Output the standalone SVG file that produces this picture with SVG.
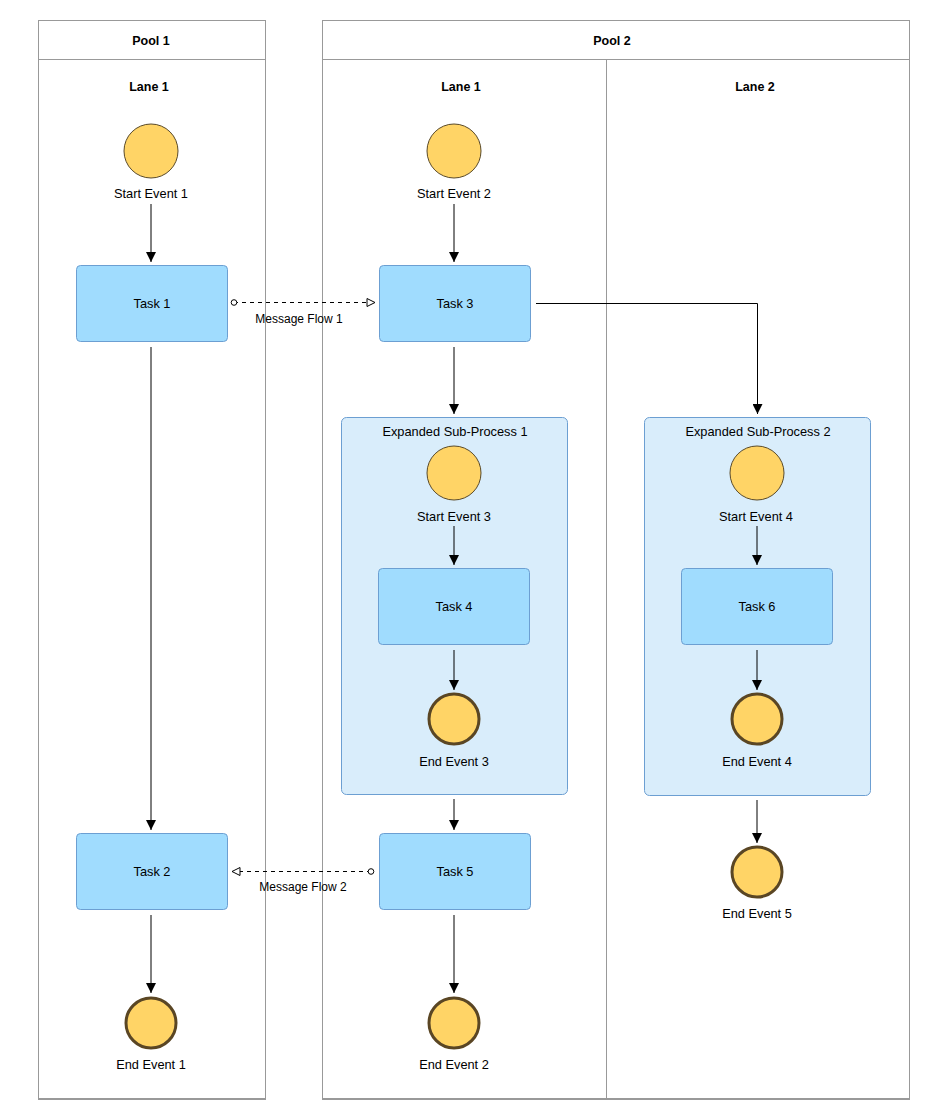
<svg xmlns="http://www.w3.org/2000/svg" width="948" height="1118" viewBox="0 0 948 1118">
<defs>
<style>
text{font-family:"Liberation Sans",Arial,sans-serif;font-size:12.8px;fill:#000;text-anchor:middle;dominant-baseline:central}
.b{font-weight:bold;font-size:12.5px}
.m{font-size:12px}
.pool{fill:#fff;stroke:#999;stroke-width:1}
.ln{stroke:#999;stroke-width:1;fill:none}
.task{fill:#a0dcfe;stroke:#6c9fd2;stroke-width:1}
.sub{fill:#d9edfb;stroke:#6c9fd2;stroke-width:1}
.se{fill:#ffd466;stroke:#5a4a28;stroke-width:1}
.ee{fill:#ffd466;stroke:#5a4624;stroke-width:3}
.flow{stroke:#000;stroke-width:1;fill:none;marker-end:url(#arr)}
.msg{stroke:#000;stroke-width:1;fill:none;stroke-dasharray:4 4;marker-start:url(#dot);marker-end:url(#open)}
</style>
<marker id="arr" viewBox="0 0 10 10" refX="10" refY="5" markerWidth="10" markerHeight="10" markerUnits="userSpaceOnUse" orient="auto">
<path d="M0,0 L10,5 L0,10 Z" fill="#000"/>
</marker>
<marker id="open" viewBox="0 0 10 10" refX="9" refY="5" markerWidth="10" markerHeight="10" markerUnits="userSpaceOnUse" orient="auto">
<path d="M1,1 L9,5 L1,9 Z" fill="#fff" stroke="#000" stroke-width="1"/>
</marker>
<marker id="dot" viewBox="0 0 8 8" refX="4" refY="4" markerWidth="8" markerHeight="8" markerUnits="userSpaceOnUse" orient="auto">
<circle cx="4" cy="4" r="2.8" fill="#fff" stroke="#000" stroke-width="1"/>
</marker>
</defs>
<rect width="948" height="1118" fill="#fff"/>

<g id="pool1">
<rect class="pool" x="38.5" y="20.5" width="227" height="1078"/>
<line class="ln" x1="38.5" y1="59.5" x2="265.5" y2="59.5"/>
<line x1="38" y1="1099" x2="266" y2="1099" stroke="#999" stroke-width="2"/>
<text class="b" x="151" y="40.5">Pool 1</text>
<text class="b" x="149" y="86.5">Lane 1</text>
</g>

<g id="pool2">
<rect class="pool" x="322.5" y="20.5" width="587" height="1078"/>
<line class="ln" x1="322.5" y1="59.5" x2="909.5" y2="59.5"/>
<line class="ln" x1="606.5" y1="59.5" x2="606.5" y2="1098.5"/>
<line x1="322" y1="1099" x2="910" y2="1099" stroke="#999" stroke-width="2"/>
<text class="b" x="612" y="40.5">Pool 2</text>
<text class="b" x="461" y="86.5">Lane 1</text>
<text class="b" x="755" y="86.5">Lane 2</text>
</g>

<g id="subProcess1">
<rect class="sub" x="341.5" y="417.5" width="226" height="377" rx="5"/>
<text x="455" y="431.5">Expanded Sub-Process 1</text>
</g>
<g id="subProcess2">
<rect class="sub" x="644.5" y="417.5" width="226" height="378" rx="5"/>
<text x="758" y="431.5">Expanded Sub-Process 2</text>
</g>

<g id="connectors">
<line class="flow" x1="151" y1="204" x2="151" y2="262"/>
<line class="flow" x1="151" y1="347" x2="151" y2="830"/>
<line class="flow" x1="151" y1="915" x2="151" y2="993"/>
<line class="flow" x1="454" y1="204" x2="454" y2="262"/>
<line class="flow" x1="454" y1="347" x2="454" y2="414"/>
<path class="flow" d="M536,303.5 H757.5 V414"/>
<line class="flow" x1="454" y1="526" x2="454" y2="565"/>
<line class="flow" x1="454" y1="650" x2="454" y2="690"/>
<line class="flow" x1="454" y1="799" x2="454" y2="830"/>
<line class="flow" x1="454" y1="915" x2="454" y2="993"/>
<line class="flow" x1="757" y1="526" x2="757" y2="565"/>
<line class="flow" x1="757" y1="650" x2="757" y2="690"/>
<line class="flow" x1="757" y1="800" x2="757" y2="843"/>
<line class="msg" x1="234" y1="302.5" x2="375" y2="302.5"/>
<text class="m" x="299" y="318.5">Message Flow 1</text>
<line class="msg" x1="371" y1="871.5" x2="232" y2="871.5"/>
<text class="m" x="303" y="886.5">Message Flow 2</text>
</g>

<g id="startEvent1"><circle class="se" cx="151" cy="151" r="27"/><text x="151" y="193.5">Start Event 1</text></g>
<g id="task1"><rect class="task" x="76.5" y="265.5" width="151" height="76" rx="4"/><text x="152" y="303.5">Task 1</text></g>
<g id="task2"><rect class="task" x="76.5" y="833.5" width="151" height="76" rx="4"/><text x="152" y="871.5">Task 2</text></g>
<g id="endEvent1"><circle class="ee" cx="151" cy="1023" r="25"/><text x="151" y="1064.5">End Event 1</text></g>

<g id="startEvent2"><circle class="se" cx="454" cy="151" r="27"/><text x="454" y="193.5">Start Event 2</text></g>
<g id="task3"><rect class="task" x="379.5" y="265.5" width="151" height="76" rx="4"/><text x="455" y="303.5">Task 3</text></g>

<g id="startEvent3"><circle class="se" cx="454" cy="473" r="27"/><text x="454" y="516.5">Start Event 3</text></g>
<g id="task4"><rect class="task" x="378.5" y="568.5" width="151" height="76" rx="4"/><text x="454" y="606.5">Task 4</text></g>
<g id="endEvent3"><circle class="ee" cx="454" cy="719" r="25"/><text x="454" y="761.5">End Event 3</text></g>

<g id="task5"><rect class="task" x="379.5" y="833.5" width="151" height="76" rx="4"/><text x="455" y="871.5">Task 5</text></g>
<g id="endEvent2"><circle class="ee" cx="454" cy="1023" r="25"/><text x="454" y="1064.5">End Event 2</text></g>

<g id="startEvent4"><circle class="se" cx="757" cy="473" r="27"/><text x="756" y="516.5">Start Event 4</text></g>
<g id="task6"><rect class="task" x="681.5" y="568.5" width="151" height="76" rx="4"/><text x="757" y="606.5">Task 6</text></g>
<g id="endEvent4"><circle class="ee" cx="757" cy="719" r="25"/><text x="757" y="761.5">End Event 4</text></g>
<g id="endEvent5"><circle class="ee" cx="757" cy="872" r="25"/><text x="757" y="913.5">End Event 5</text></g>
</svg>
